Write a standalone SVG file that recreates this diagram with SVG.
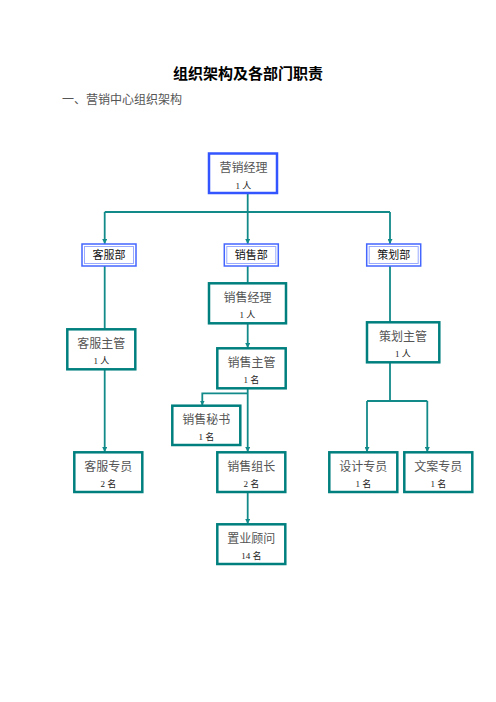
<svg xmlns="http://www.w3.org/2000/svg" width="496" height="702" viewBox="0 0 496 702">
<style>
.box{fill:#fff;stroke:#007f7f;stroke-width:2.5}
.top{fill:#fff;stroke:#3355ff;stroke-width:2.5}
.dout{fill:#fff;stroke:#4466ff;stroke-width:1.5}
.din{fill:none;stroke:#99aaff;stroke-width:1}
.nm{font-family:"Liberation Serif","Noto Sans CJK SC",serif;font-size:12px;fill:#555;text-anchor:middle}
.ct{font-family:"Liberation Serif","Noto Sans CJK SC",serif;font-size:9px;fill:#222;text-anchor:middle}
.dp{font-family:"Noto Sans CJK SC",sans-serif;font-size:11px;font-weight:normal;fill:#111;text-anchor:middle}
.ln{fill:none;stroke:#138a8a;stroke-width:1.8}
</style>
<defs>
<marker id="ah" markerWidth="6" markerHeight="5" refX="5" refY="2.5" orient="auto" markerUnits="userSpaceOnUse">
<path d="M0,0 L5,2.5 L0,5 Z" fill="#138a8a"/>
</marker>
</defs>
<text x="248" y="79" text-anchor="middle" font-family="'Noto Sans CJK SC',sans-serif" font-weight="bold" font-size="15" fill="#000">组织架构及各部门职责</text>
<text x="62" y="104" font-family="'Noto Sans CJK SC',serif" font-size="12" fill="#555">一、营销中心组织架构</text>
<g id="connectors">
<path class="ln" d="M247.7,193 V212"/>
<path class="ln" d="M104.7,212 H390"/>
<path class="ln" d="M104.7,212 V244" marker-end="url(#ah)"/>
<path class="ln" d="M247.7,212 V244" marker-end="url(#ah)"/>
<path class="ln" d="M390,212 V244" marker-end="url(#ah)"/>
<path class="ln" d="M104.7,266 V329"/>
<path class="ln" d="M104.7,369 V452" marker-end="url(#ah)"/>
<path class="ln" d="M247.7,266 V283"/>
<path class="ln" d="M247.7,323 V348" marker-end="url(#ah)"/>
<path class="ln" d="M247.7,388 V452" marker-end="url(#ah)"/>
<path class="ln" d="M247.7,393.3 H202.3 V405.5" marker-end="url(#ah)"/>
<path class="ln" d="M247.7,492 V524" marker-end="url(#ah)"/>
<path class="ln" d="M390,266 V322"/>
<path class="ln" d="M390,362 V401"/>
<path class="ln" d="M367,401 H427.3"/>
<path class="ln" d="M367,401 V452" marker-end="url(#ah)"/>
<path class="ln" d="M427.3,401 V452" marker-end="url(#ah)"/>
</g>
<g id="n-yxjl"><rect class="top" x="209" y="153.5" width="68" height="39.5"/><text class="nm" x="243.5" y="172">营销经理</text><text class="ct" x="243.5" y="189">1 人</text></g>
<g id="d-kf"><rect class="dout" x="82" y="244" width="54" height="22"/><rect class="din" x="84.5" y="246.5" width="49" height="17"/><text class="dp" x="109" y="259">客服部</text></g>
<g id="d-xs"><rect class="dout" x="224.3" y="244" width="54" height="22"/><rect class="din" x="226.8" y="246.5" width="49" height="17"/><text class="dp" x="251.3" y="259">销售部</text></g>
<g id="d-ch"><rect class="dout" x="366.7" y="244" width="54" height="22"/><rect class="din" x="369.2" y="246.5" width="49" height="17"/><text class="dp" x="393.7" y="259">策划部</text></g>
<g id="n-xsjl"><rect class="box" x="209" y="283.3" width="77" height="40"/><text class="nm" x="247.5" y="301.5">销售经理</text><text class="ct" x="247.5" y="318">1 人</text></g>
<g id="n-kfzg"><rect class="box" x="67.3" y="329.3" width="68" height="40"/><text class="nm" x="101.3" y="347.5">客服主管</text><text class="ct" x="101.3" y="364">1 人</text></g>
<g id="n-xszg"><rect class="box" x="217.3" y="348.3" width="68.4" height="40"/><text class="nm" x="251.5" y="366.5">销售主管</text><text class="ct" x="251.5" y="383">1 名</text></g>
<g id="n-chzg"><rect class="box" x="367" y="322.3" width="72.3" height="40"/><text class="nm" x="403" y="340.5">策划主管</text><text class="ct" x="403" y="357">1 人</text></g>
<g id="n-xsms"><rect class="box" x="172.3" y="405.7" width="68" height="39.3"/><text class="nm" x="206.3" y="423.5">销售秘书</text><text class="ct" x="206.3" y="440">1 名</text></g>
<g id="n-kfzy"><rect class="box" x="74.3" y="452.3" width="68" height="39.7"/><text class="nm" x="108.3" y="470.5">客服专员</text><text class="ct" x="108.3" y="487">2 名</text></g>
<g id="n-xszz"><rect class="box" x="217.3" y="452.3" width="68" height="39.7"/><text class="nm" x="251.3" y="470.5">销售组长</text><text class="ct" x="251.3" y="487">2 名</text></g>
<g id="n-sjzy"><rect class="box" x="329.3" y="452.3" width="68" height="39.7"/><text class="nm" x="363.3" y="470.5">设计专员</text><text class="ct" x="363.3" y="487">1 名</text></g>
<g id="n-wazy"><rect class="box" x="404.3" y="452.3" width="68" height="39.7"/><text class="nm" x="438.3" y="470.5">文案专员</text><text class="ct" x="438.3" y="487">1 名</text></g>
<g id="n-zygw"><rect class="box" x="217.3" y="524.3" width="68" height="39.7"/><text class="nm" x="251.3" y="542.5">置业顾问</text><text class="ct" x="251.3" y="559">14 名</text></g>
</svg>
